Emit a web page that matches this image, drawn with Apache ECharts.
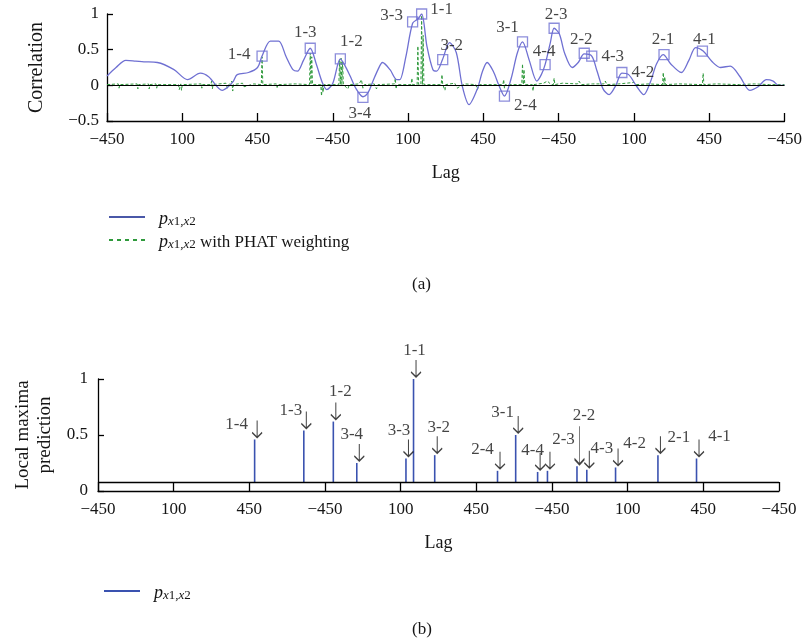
<!DOCTYPE html>
<html>
<head>
<meta charset="utf-8">
<script src="https://cdn.jsdelivr.net/npm/echarts@6/dist/echarts.min.js"></script>
<style>
html,body{margin:0;padding:0;background:#fff;}
#chart{width:805px;height:642px;}
</style>
</head>
<body>
<div id="chart"></div>
<script>
// ---------- data ----------
// x positions are in "tick units" along the concatenated lag axis (0..9)
const xTickLabels = ['−450','100','450','−450','100','450','−450','100','450','−450'];

// panel (a): cross-correlation curve
const corrLag = [0.00,0.12,0.25,0.38,0.49,0.67,0.89,1.07,1.24,1.35,1.53,1.61,1.68,1.73,1.88,2.00,2.06,2.17,2.28,2.38,2.47,2.53,2.61,2.70,2.78,2.86,2.92,3.00,3.10,3.16,3.23,3.31,3.40,3.47,3.53,3.60,3.66,3.76,3.85,3.89,3.97,4.06,4.13,4.18,4.25,4.33,4.38,4.46,4.55,4.64,4.72,4.81,4.92,4.99,5.05,5.13,5.21,5.28,5.37,5.45,5.52,5.61,5.71,5.77,5.82,5.89,5.94,6.01,6.08,6.18,6.26,6.34,6.44,6.51,6.59,6.67,6.76,6.84,6.93,7.04,7.13,7.22,7.30,7.39,7.49,7.63,7.73,7.82,7.92,8.04,8.15,8.28,8.41,8.54,8.65,8.76,8.85,8.92,9.00];
const corrValue = [0.13,0.25,0.35,0.34,0.33,0.32,0.22,0.08,0.17,0.12,-0.07,-0.02,0.06,0.15,0.18,0.25,0.41,0.62,0.62,0.40,0.22,0.20,0.35,0.52,0.30,0.04,-0.06,0.03,0.37,0.28,0.13,-0.05,-0.16,-0.10,0.05,0.22,0.32,0.22,0.08,0.08,0.40,0.87,0.93,1.00,0.55,0.22,0.20,0.37,0.60,0.46,-0.01,-0.27,-0.05,0.20,0.32,0.20,-0.01,-0.15,0.10,0.45,0.61,0.35,0.06,0.15,0.29,0.60,0.80,0.72,0.45,0.25,0.32,0.44,0.41,0.20,-0.05,-0.13,0.00,0.17,0.15,-0.02,-0.13,0.05,0.30,0.43,0.30,0.18,0.35,0.53,0.48,0.33,0.25,0.27,0.12,-0.07,-0.02,0.08,0.06,0.00,0.00];

// panel (a): correlation with PHAT weighting
const phatLag = [0,0.15,0.16,0.17,0.40,0.41,0.42,0.55,0.56,0.57,0.65,0.66,0.67,0.95,0.96,0.98,0.99,1.00,1.25,1.26,1.27,1.38,1.39,1.40,1.41,1.58,1.60,1.62,1.66,1.67,1.68,1.80,1.82,1.95,2.05,2.06,2.07,2.25,2.26,2.27,2.50,2.69,2.70,2.71,2.72,2.73,2.84,2.85,2.86,2.87,2.88,3.08,3.09,3.10,3.11,3.12,3.13,3.14,3.20,3.22,3.35,3.38,3.40,3.42,3.55,3.58,3.60,3.82,3.83,3.84,3.85,4.04,4.05,4.06,4.12,4.13,4.14,4.17,4.18,4.19,4.20,4.21,4.44,4.45,4.46,4.49,4.50,4.62,4.65,4.75,4.90,4.92,4.95,5.26,5.27,5.28,5.29,5.51,5.52,5.53,5.54,5.55,5.65,5.66,5.67,5.80,5.85,5.90,5.93,5.94,5.95,6.05,6.25,6.27,6.30,6.45,6.60,6.62,6.64,6.80,7.00,7.02,7.20,7.38,7.39,7.40,7.41,7.42,7.60,7.91,7.92,7.93,8.10,8.40,8.60,8.80,9.00];
const phatValue = [0.01,0.02,-0.04,0.01,0.02,-0.05,0.01,0.02,-0.05,0.01,0.02,-0.04,0.01,0.01,-0.06,0.02,-0.07,0.01,0.02,-0.04,0.01,0.01,0.06,-0.05,0.01,0.03,-0.04,0.01,0.06,-0.08,0.01,0.03,-0.02,0.02,0.01,0.40,0.01,0.02,-0.03,0.01,0.02,0.01,0.45,0.01,0.40,0.01,0.01,-0.15,0.01,-0.10,0.01,0.01,0.35,0.01,0.38,0.01,0.33,0.01,-0.05,0.01,0.02,0.08,-0.04,0.01,0.02,-0.05,0.01,0.02,0.10,-0.05,0.01,0.01,0.10,0.01,0.01,0.55,0.01,0.01,0.98,0.01,0.70,0.01,0.01,0.15,0.01,-0.07,0.01,0.03,-0.04,0.02,0.01,-0.06,0.01,0.01,0.08,-0.04,0.01,0.01,0.30,0.01,0.22,0.01,0.01,-0.08,0.01,0.03,0.06,0.01,0.01,0.10,0.01,0.03,0.02,0.06,0.01,0.02,0.02,0.06,0.01,0.02,0.04,0.01,0.02,0.01,0.18,0.01,0.12,0.01,0.02,0.01,0.17,0.01,0.02,0.01,0.02,0.01,0.01];

// panel (a): labelled local maxima
const peakNames = ['1-4','1-3','1-2','3-4','3-3','1-1','3-2','2-4','3-1','4-4','2-3','2-2','4-3','4-2','2-1','4-1'];
const peakLagA  = [2.06,2.70,3.10,3.40,4.06,4.18,4.46,5.28,5.52,5.82,5.94,6.34,6.44,6.84,7.40,7.91];
const peakCorrA = [0.41,0.52,0.37,-0.17,0.89,1.00,0.36,-0.15,0.61,0.29,0.80,0.45,0.41,0.18,0.43,0.48];

// panel (b): local maxima prediction
const predLag   = [2.07,2.72,3.11,3.42,4.07,4.17,4.45,5.28,5.52,5.81,5.94,6.33,6.46,6.84,7.40,7.91];
const predValue = [0.46,0.54,0.62,0.25,0.29,1.00,0.32,0.18,0.50,0.17,0.18,0.22,0.19,0.21,0.32,0.29];
const stemBase = 0.08;

// ---------- annotation layout (pixel offsets) ----------
const labelOffsetA = {'1-4':[-23,-2],'1-3':[-5,-16],'1-2':[11,-17],'3-4':[-3,16],'3-3':[-21,-6],'1-1':[20,-4],'3-2':[9,-14],'2-4':[21,9],'3-1':[-15,-14],'4-4':[-1,-13],'2-3':[2,-14],'2-2':[-3,-14],'4-3':[21,0],'4-2':[21,0],'2-1':[-1,-15],'4-1':[2,-12]};
const labelOffsetB = {'1-4':[-20,-14],'1-3':[-15,-19],'1-2':[5,-29],'3-4':[-7,-27],'3-3':[-9,-27],'1-1':[-1,-27],'3-2':[2,-27],'2-4':[-17,-20],'3-1':[-15,-21],'4-4':[-7,-20],'2-3':[14,-30],'2-2':[5,-50],'4-3':[13,-20],'4-2':[17,-23],'2-1':[19,-17],'4-1':[21,-21]};
const arrowLenB = {'2-2':38};

// ---------- chart ----------
const FONT = 'Liberation Serif';
const INK = '#151515';
const txt = {fontFamily: FONT, color: INK, fontSize: 17};
const curveColor = '#6f70d2';
const legendBlue = '#4a58a8';
const phatColor = '#2f9a3c';
const stemColor = '#3a52b0';

const chart = echarts.init(document.getElementById('chart'), null, {renderer: 'canvas'});

function xAxisFor(gridIndex, tickLen) {
  return {
    gridIndex: gridIndex, type: 'value', min: 0, max: 9, interval: 1,
    axisLine: {show: true, onZero: false, lineStyle: {color: '#000', width: 1.3}},
    axisTick: {show: true, inside: true, length: tickLen, lineStyle: {color: '#000', width: 1.3}},
    axisLabel: Object.assign({}, txt, {margin: 10, showMaxLabel: true, showMinLabel: true,
      formatter: v => xTickLabels[Math.round(v)]}),
    splitLine: {show: false},
    name: 'Lag', nameLocation: 'middle', nameGap: 43,
    nameTextStyle: Object.assign({}, txt, {fontSize: 18})
  };
}

const arrowShort = 'path://M6,0 L6,24 M1,17 L6,24 L11,17';
const arrowLong  = 'path://M6,0 L6,50 M1,43 L6,50 L11,43';
const iconSolid  = 'path://M0,0h36v2h-36z';
const iconDashed = 'path://M0,0h4v2h-4z M8,0h4v2h-4z M16,0h4v2h-4z M24,0h4v2h-4z M32,0h4v2h-4z';

const rich = {
  p: {fontFamily: FONT, fontStyle: 'italic', fontSize: 18, color: INK, verticalAlign: 'bottom', lineHeight: 22, padding: [0,0,0,9]},
  sx: {fontFamily: FONT, fontStyle: 'italic', fontSize: 13, color: INK, verticalAlign: 'bottom', lineHeight: 22, padding: [8,0,0,0]},
  sn: {fontFamily: FONT, fontSize: 13, color: INK, verticalAlign: 'bottom', lineHeight: 22, padding: [8,0,0,0]},
  t: {fontFamily: FONT, fontSize: 17, color: INK, verticalAlign: 'bottom', lineHeight: 22}
};
function legendText(name) {
  let s = '{p|p}{sx|x}{sn|1,}{sx|x}{sn|2}';
  if (name.indexOf('PHAT') >= 0) s += '{t| with PHAT weighting}';
  return s;
}

const option = {
  animation: false,
  backgroundColor: '#fff',
  title: [
    {text: '(a)', left: 407, top: 271, textStyle: Object.assign({}, txt, {fontSize: 17, fontWeight: 'normal'})},
    {text: '(b)', left: 407, top: 616, textStyle: Object.assign({}, txt, {fontSize: 17, fontWeight: 'normal'})}
  ],
  legend: [
    {orient: 'vertical', left: 104, top: 202, itemWidth: 36, itemHeight: 2, itemGap: 2,
     data: [{name: 'p_x1,x2', icon: iconSolid}, {name: 'p_x1,x2 with PHAT weighting', icon: iconDashed}],
     formatter: legendText, textStyle: {rich: rich}},
    {orient: 'vertical', left: 99, top: 576, itemWidth: 36, itemHeight: 2,
     data: [{name: 'p_x1,x2 (b)', icon: iconSolid}],
     formatter: legendText, textStyle: {rich: rich}}
  ],
  grid: [
    {left: 107, top: 14, width: 680, height: 107},
    {left: 98, top: 379, width: 681, height: 112}
  ],
  xAxis: [xAxisFor(0, 8), xAxisFor(1, 9)],
  yAxis: [
    {gridIndex: 0, type: 'value', min: -0.5, max: 1, interval: 0.5,
     axisLine: {show: true, onZero: false, lineStyle: {color: '#000', width: 1.3}},
     axisTick: {show: true, inside: true, length: 6, lineStyle: {color: '#000', width: 1.3}},
     axisLabel: Object.assign({}, txt, {margin: 8, formatter: v => (v < 0 ? '−' + Math.abs(v) : String(v))}),
     splitLine: {show: false},
     name: 'Correlation', nameLocation: 'middle', nameGap: 60,
     nameTextStyle: Object.assign({}, txt, {fontSize: 20})},
    {gridIndex: 1, type: 'value', min: 0, max: 1, interval: 0.5,
     axisLine: {show: true, onZero: false, lineStyle: {color: '#000', width: 1.3}},
     axisTick: {show: true, inside: true, length: 6, lineStyle: {color: '#000', width: 1.3}},
     axisLabel: Object.assign({}, txt, {margin: 10}),
     splitLine: {show: false},
     name: 'Local maxima\nprediction', nameLocation: 'middle', nameGap: 40,
     nameTextStyle: Object.assign({}, txt, {fontSize: 19, lineHeight: 22})}
  ],
  series: [
    {
      name: 'p_x1,x2 with PHAT weighting', type: 'line', xAxisIndex: 0, yAxisIndex: 0,
      data: phatLag.map((x, i) => [x, phatValue[i]]),
      showSymbol: false, symbol: 'none',
      lineStyle: {color: phatColor, width: 1, type: [3, 2]},
      itemStyle: {color: phatColor},
      markLine: {silent: true, symbol: 'none', label: {show: false},
        lineStyle: {color: '#000', width: 1.2, type: 'solid'},
        data: [{yAxis: 0}]},
      z: 2
    },
    {
      name: 'p_x1,x2', type: 'line', xAxisIndex: 0, yAxisIndex: 0,
      data: corrLag.map((x, i) => [x, corrValue[i]]),
      smooth: 0.3, showSymbol: false, symbol: 'none',
      lineStyle: {color: curveColor, width: 1.3},
      itemStyle: {color: legendBlue},
      z: 3
    },
    {
      name: 'peaksA', type: 'scatter', xAxisIndex: 0, yAxisIndex: 0,
      data: peakLagA.map((x, i) => [x, peakCorrA[i]]),
      symbol: 'rect', symbolSize: 10,
      itemStyle: {color: 'rgba(255,255,255,0)', borderColor: curveColor, borderWidth: 1.3},
      z: 4
    },
    {
      name: 'peakLabelsA', type: 'scatter', xAxisIndex: 0, yAxisIndex: 0,
      symbol: 'circle', symbolSize: 1, itemStyle: {color: 'rgba(0,0,0,0)'},
      data: peakNames.map((n, i) => ({name: n, value: [peakLagA[i], peakCorrA[i]],
        label: {show: true, position: 'inside', offset: labelOffsetA[n], formatter: n}})),
      label: Object.assign({}, txt, {show: true}),
      z: 5
    },
    {
      name: 'p_x1,x2 (b)', type: 'custom', xAxisIndex: 1, yAxisIndex: 1,
      data: predLag.map((x, i) => [x, predValue[i]]),
      itemStyle: {color: stemColor},
      renderItem: function (params, api) {
        const p0 = api.coord([api.value(0), stemBase]);
        const p1 = api.coord([api.value(0), api.value(1)]);
        return {type: 'line', shape: {x1: p0[0], y1: p0[1], x2: p1[0], y2: p1[1]},
          style: {stroke: stemColor, lineWidth: 1.6}};
      },
      markLine: {silent: true, symbol: 'none', label: {show: false},
        lineStyle: {color: '#000', width: 1.3, type: 'solid'},
        data: [{yAxis: stemBase}]},
      z: 3
    },
    {
      name: 'arrowsB', type: 'scatter', xAxisIndex: 1, yAxisIndex: 1,
      data: peakNames.map((n, i) => {
        const len = arrowLenB[n] || 17;
        return {name: n, value: [predLag[i], predValue[i]],
          symbol: len > 20 ? arrowLong : arrowShort,
          symbolSize: [10, len], symbolOffset: [2.5, -(2 + len / 2)]};
      }),
      itemStyle: {color: 'rgba(0,0,0,0)', borderColor: '#111', borderWidth: 1.3},
      z: 4
    },
    {
      name: 'labelsB', type: 'scatter', xAxisIndex: 1, yAxisIndex: 1,
      symbol: 'circle', symbolSize: 1, itemStyle: {color: 'rgba(0,0,0,0)'},
      data: peakNames.map((n, i) => ({name: n, value: [predLag[i], predValue[i]],
        label: {show: true, position: 'inside', offset: [labelOffsetB[n][0] + 2, labelOffsetB[n][1] - 1], formatter: n}})),
      label: Object.assign({}, txt, {show: true}),
      z: 5
    }
  ]
};
chart.setOption(option);
</script>
</body>
</html>
